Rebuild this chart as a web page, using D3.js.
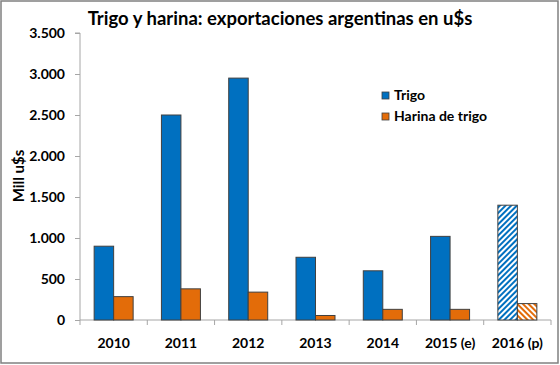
<!DOCTYPE html>
<html>
<head>
<meta charset="utf-8">
<script src="https://cdn.jsdelivr.net/npm/d3@7"></script>
<style>
  body { margin: 0; background: #fff; }
  text { font-family: Lato, "Open Sans", sans-serif; font-weight: bold; fill: #000; }
</style>
</head>
<body>
<div id="chartContainer"></div>
<script>
var years = ["2010", "2011", "2012", "2013", "2014", "2015 (e)", "2016 (p)"];
var trigo = [900, 2500, 2950, 765, 600, 1020, 1400];
var harina = [285, 380, 340, 55, 130, 130, 200];
var projected = [false, false, false, false, false, false, true];
var yTicks = [0, 500, 1000, 1500, 2000, 2500, 3000, 3500];
var seriesNames = ["Trigo", "Harina de trigo"];
var seriesColors = ["#0070c0", "#e36c09"];

var W = 560, H = 365;
var margin = { top: 33, left: 80, right: 9, bottom: 45 };

var svg = d3.select("#chartContainer")
  .append("svg")
  .attr("width", W)
  .attr("height", H);

// hatch patterns for the projected year
var defs = svg.append("defs");
function hatch(id, color, dir) {
  var p = defs.append("pattern")
    .attr("id", id)
    .attr("patternUnits", "userSpaceOnUse")
    .attr("width", 4)
    .attr("height", 4)
    .attr("patternTransform", "rotate(" + dir + ")");
  p.append("rect").attr("width", 4).attr("height", 4).attr("fill", "#fff");
  p.append("rect").attr("width", 2).attr("height", 4).attr("fill", color);
}
hatch("hatchBlue", seriesColors[0], 45);
hatch("hatchOrange", seriesColors[1], -45);

// frame
svg.append("rect")
  .attr("x", 1).attr("y", 1)
  .attr("width", W - 3).attr("height", H - 3)
  .attr("fill", "#fff")
  .attr("stroke", "#808080")
  .attr("stroke-width", 1.5);

var xScale = d3.scaleBand()
  .domain(years)
  .range([margin.left, W - margin.right]);
var yScale = d3.scaleLinear()
  .domain([0, 3500])
  .range([H - margin.bottom, margin.top]);

var barW = 19.5;
var fmt = d3.format(",");
function fmtES(v) { return fmt(v).replace(/,/g, "."); }

// axes
var yAxis = d3.axisLeft(yScale).tickValues(yTicks).tickSize(5).tickPadding(10).tickFormat(fmtES);
var gy = svg.append("g")
  .attr("transform", "translate(" + margin.left + ",0)")
  .call(yAxis);
gy.select(".domain").attr("stroke", "#a6a6a6").attr("d", "M-5," + yScale(3500) + "H0V" + yScale(0));
gy.selectAll(".tick line").attr("stroke", "#a6a6a6");
gy.selectAll(".tick text").attr("font-size", 14).style("font-family", "Lato, sans-serif").style("font-weight", "bold");

var gx = svg.append("g")
  .attr("transform", "translate(0," + yScale(0) + ")");
gx.append("line")
  .attr("x1", margin.left).attr("x2", W - margin.right)
  .attr("stroke", "#a6a6a6");
gx.selectAll(".xt")
  .data(years.concat(["end"]))
  .enter()
  .append("line")
  .attr("x1", (d, i) => i < years.length ? xScale(d) : W - margin.right)
  .attr("x2", (d, i) => i < years.length ? xScale(d) : W - margin.right)
  .attr("y2", 5)
  .attr("stroke", "#a6a6a6");
gx.selectAll(".xl")
  .data(years)
  .enter()
  .append("text")
  .attr("x", d => xScale(d) + xScale.bandwidth() / 2)
  .attr("y", 28)
  .attr("text-anchor", "middle")
  .attr("font-size", 14)
  .text(d => d);

// bars
var groups = svg.selectAll(".yr")
  .data(years)
  .enter()
  .append("g")
  .attr("transform", d => "translate(" + (xScale(d) + xScale.bandwidth() / 2) + ",0)");

groups.append("rect")
  .attr("x", -barW)
  .attr("y", (d, i) => yScale(trigo[i]))
  .attr("width", barW)
  .attr("height", (d, i) => yScale(0) - yScale(trigo[i]))
  .attr("fill", (d, i) => projected[i] ? "url(#hatchBlue)" : seriesColors[0])
  .attr("stroke", "#404040")
  .attr("stroke-width", 1);

groups.append("rect")
  .attr("x", 0)
  .attr("y", (d, i) => yScale(harina[i]))
  .attr("width", barW)
  .attr("height", (d, i) => yScale(0) - yScale(harina[i]))
  .attr("fill", (d, i) => projected[i] ? "url(#hatchOrange)" : seriesColors[1])
  .attr("stroke", "#404040")
  .attr("stroke-width", 1);

// title
svg.append("text")
  .attr("x", 280)
  .attr("y", 25)
  .attr("text-anchor", "middle")
  .attr("font-size", 18.5)
  .text("Trigo y harina: exportaciones argentinas en u$s");

// y label
svg.append("text")
  .attr("transform", "translate(24,176) rotate(-90)")
  .attr("text-anchor", "middle")
  .attr("font-size", 15)
  .text("Mill u$s");

// legend
var legend = svg.selectAll(".legend")
  .data(seriesNames)
  .enter()
  .append("g")
  .attr("transform", (d, i) => "translate(382," + (92 + i * 21) + ")");
legend.append("rect")
  .attr("width", 7).attr("height", 7)
  .attr("fill", (d, i) => seriesColors[i])
  .attr("stroke", "#404040")
  .attr("stroke-width", 0.8);
legend.append("text")
  .attr("x", 12)
  .attr("y", 7.5)
  .attr("font-size", 14)
  .text(d => d);
</script>
</body>
</html>
